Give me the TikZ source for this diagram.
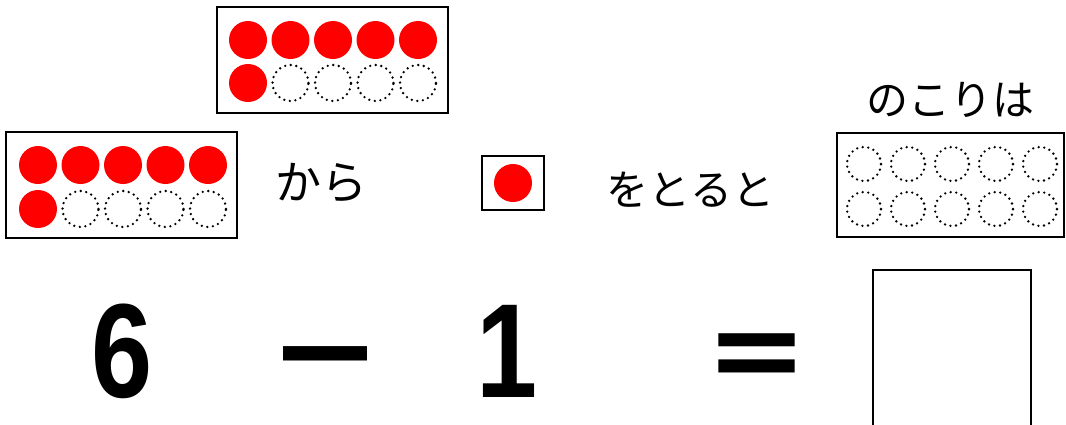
\documentclass[tikz,border=0pt]{standalone}
\usepackage{fontspec}
\newfontfamily\jpfont{Noto Sans CJK JP}
\newfontfamily\numfont[FakeStretch=0.82]{Liberation Sans}
\tikzset{
  frame/.style={draw, line width=2pt, inner sep=0pt},
  bead/.style={circle, fill=red, inner sep=0pt, minimum size=38pt},
  hole/.style={circle, draw, line width=2.6pt, dash pattern=on 0pt off 5.6pt,
    line cap=round, inner sep=0pt, minimum size=36pt},
  word/.style={font=\jpfont\fontsize{42}{48}\selectfont, inner sep=0pt},
  num/.style={font=\numfont\bfseries\fontsize{134}{140}\selectfont, inner sep=0pt},
  sign/.style={font=\jpfont\bfseries\fontsize{#1}{120}\selectfont, inner sep=0pt}
}

\begin{document}
\begin{tikzpicture}[x=1pt, y=-1pt]
\useasboundingbox (0,0) rectangle (1066,424);
\clip (0,0) rectangle (1066,424);
% six before taking
\node[frame, minimum width=231pt, minimum height=106pt] (top) at (332.5,60) {};
\node[frame, minimum width=231pt, minimum height=106pt] (start) at (121.5,185) {};
\foreach \i in {0,...,4} {
  \node[bead] (top-a\i) at (248+42.5*\i,40) {};
  \node[bead] (start-a\i) at (38+42.5*\i,165) {};
}
\node[bead] (top-b0) at (248,83) {};
\node[bead] (start-b0) at (38,209) {};
\foreach \i in {1,...,4} {
  \node[hole] (top-b\i) at (248+42.5*\i,83) {};
  \node[hole] (start-b\i) at (38+42.5*\i,209) {};
}
% the one taken
\node[frame, minimum width=62pt, minimum height=54pt] (take) at (513,183) {};
\node[bead] (take-a0) at (take) {};
% what is left
\node[frame, line width=1.6pt, minimum width=227pt, minimum height=104pt] (rest) at (950.5,185) {};
\foreach \i in {0,...,4} {
  \node[hole, minimum size=34pt] (rest-a\i) at (864+44*\i,164) {};
  \node[hole, minimum size=34pt] (rest-b\i) at (864+44*\i,209) {};
}
\node[word, font=\jpfont\fontsize{46}{52}\selectfont] (kara) at (321,183) {から};
\node[word] (toruto) at (690,190) {をとると};
\node[word] (nokori) at (950,100) {のこりは};
% the sum
\node[num] (six) at (122,351) {6};
\node[sign=120] (minus) at (325,373) {－};
\node[num] (one) at (507,351) {1};
\node[sign=109] (equal) at (757,365) {＝};
\node[frame, minimum width=158pt, minimum height=170pt] (answer) at (952,355) {};
\end{tikzpicture}
\end{document}
